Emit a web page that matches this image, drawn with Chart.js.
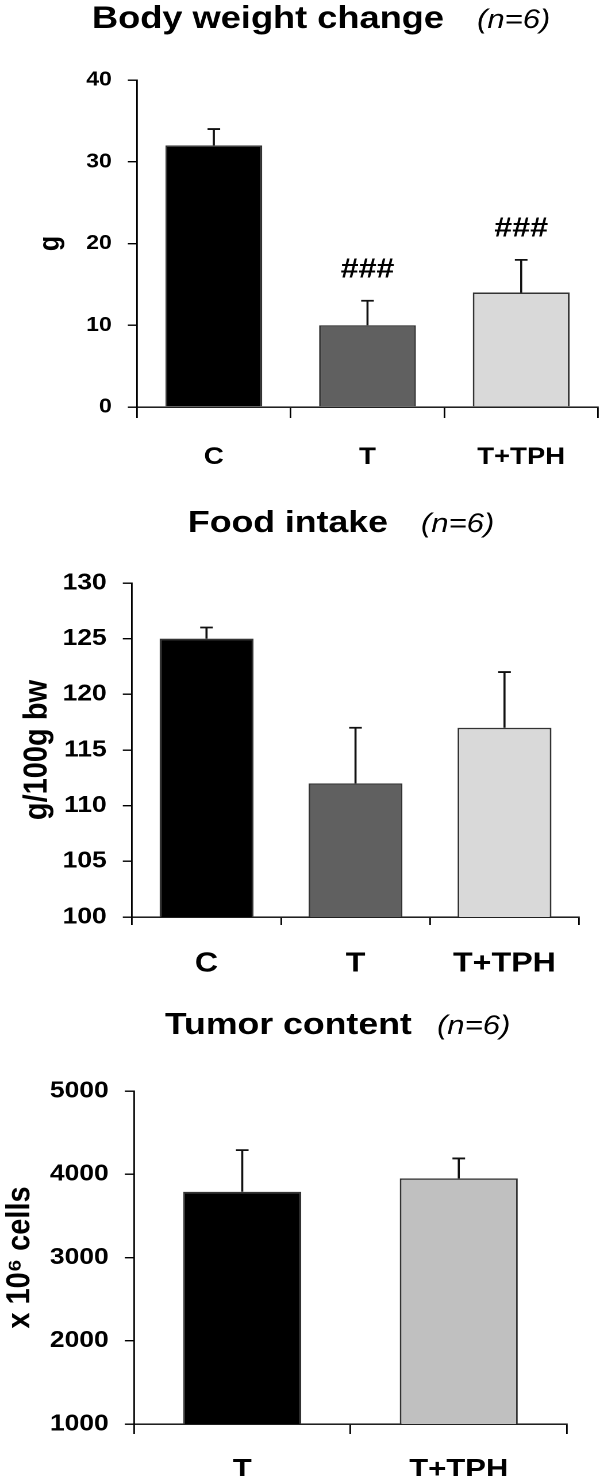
<!DOCTYPE html>
<html>
<head>
<meta charset="utf-8">
<script src="https://cdn.jsdelivr.net/npm/chart.js@4.4.1/dist/chart.umd.min.js"></script>
<style>
  html, body { margin: 0; padding: 0; background: #fff; }
  #wrap { position: relative; width: 600px; height: 1483px; overflow: hidden; }
  canvas { position: absolute; left: 0; }
</style>
</head>
<body>
<div id="wrap">
  <canvas id="bwChart" width="522" height="490" style="top:0;width:600px;height:490px"></canvas>
  <canvas id="fiChart" width="522" height="490" style="top:490px;width:600px;height:490px"></canvas>
  <canvas id="tcChart" width="522" height="503" style="top:980px;width:600px;height:503px"></canvas>
</div>
<script>
const FONT = "'Liberation Sans', Arial, sans-serif";
// the original figure is a little stretched sideways: draw narrow, show at 600px
const S = 600 / 522;
const hx = v => v / S;

// Body weight change (g)
const bwCategories = ['C', 'T', 'T+TPH'];
const bwMeans = [32, 10, 14];
const bwErrors = [2, 3, 4];
const bwMarks = ['', '###', '###'];
const bwTicks = { min: 0, max: 40, step: 10 };

// Food intake (g/100g bw)
const fiCategories = ['C', 'T', 'T+TPH'];
const fiMeans = [125, 112, 117];
const fiErrors = [1, 5, 5];
const fiTicks = { min: 100, max: 130, step: 5 };

// Tumor content (x 10^6 cells)
const tcCategories = ['T', 'T+TPH'];
const tcMeans = [3790, 3950];
const tcErrors = [500, 240];
const tcTicks = { min: 1000, max: 5000, step: 1000 };

// error bars (upper only) and significance marks
const errorBars = {
    id: 'errorBars',
    afterDatasetsDraw(chart, args, opts) {
        const ctx = chart.ctx;
        const yScale = chart.scales.y;
        const values = chart.data.datasets[0].data;
        ctx.save();
        ctx.strokeStyle = '#111';
        ctx.lineWidth = 1.8;
        chart.getDatasetMeta(0).data.forEach((bar, i) => {
            const top = yScale.getPixelForValue(values[i] + opts.errors[i]);
            ctx.beginPath();
            ctx.moveTo(bar.x, bar.y);
            ctx.lineTo(bar.x, top);
            ctx.moveTo(bar.x - 5.5, top);
            ctx.lineTo(bar.x + 5.5, top);
            ctx.stroke();
            if (opts.marks && opts.marks[i]) {
                ctx.fillStyle = '#000';
                ctx.font = 'bold 28px ' + FONT;
                ctx.textAlign = 'center';
                ctx.textBaseline = 'middle';
                ctx.fillText(opts.marks[i], bar.x, top - 31);
            }
        });
        ctx.restore();
    }
};

// bold title with italic (n=6)
const panelTitle = {
    id: 'panelTitle',
    afterDraw(chart, args, o) {
        const ctx = chart.ctx;
        ctx.save();
        ctx.fillStyle = '#000';
        ctx.textAlign = 'left';
        ctx.textBaseline = 'alphabetic';
        ctx.font = 'bold ' + o.size + 'px ' + FONT;
        ctx.fillText(o.text, hx(o.x), o.y);
        ctx.font = 'italic 27px ' + FONT;
        ctx.fillText(o.sub, hx(o.subX), o.y);
        ctx.restore();
    }
};

function createChartConfig(p) {
    return {
        type: 'bar',
        data: {
            labels: p.labels,
            datasets: [{
                data: p.values,
                backgroundColor: p.colors,
                borderColor: '#333',
                borderWidth: 1.5,
                barPercentage: p.barPct,
                categoryPercentage: 1
            }]
        },
        options: {
            responsive: false,
            animation: false,
            devicePixelRatio: 2,
            layout: { padding: { top: p.top, left: 0, right: hx(600 - p.right), bottom: p.bottomPad } },
            plugins: {
                legend: { display: false },
                tooltip: { enabled: false },
                errorBars: { errors: p.errors, marks: p.marks },
                panelTitle: p.title
            },
            scales: {
                x: {
                    grid: { drawOnChartArea: false, drawTicks: true, tickLength: p.xTick, offset: true, color: '#000', lineWidth: 1.4 },
                    border: { color: '#000', width: 1.4 },
                    ticks: { color: '#000', font: { family: FONT, size: p.xFont, weight: 'bold' }, padding: p.xPad, maxRotation: 0, autoSkip: false },
                    afterFit(scale) { scale.height = p.xHeight; }
                },
                y: {
                    min: p.ticks.min,
                    max: p.ticks.max,
                    ticks: {
                        stepSize: p.ticks.step, color: '#000', padding: 14,
                        font: { family: FONT, size: p.yFont, weight: 'bold' },
                        callback: value => String(value)
                    },
                    grid: { drawOnChartArea: false, drawTicks: true, tickLength: 8, color: '#000', lineWidth: 1.4 },
                    border: { color: '#000', width: 1.4 },
                    title: { display: true, text: p.yTitle, color: '#000', font: { family: FONT, size: p.yTitleFont, weight: 'bold' }, padding: { top: p.yTitlePad, bottom: 0 } },
                    afterFit(scale) { scale.width = hx(p.left); }
                }
            }
        },
        plugins: [errorBars, panelTitle]
    };
}

new Chart(document.getElementById('bwChart'), createChartConfig({
    labels: bwCategories, values: bwMeans, errors: bwErrors, marks: bwMarks,
    colors: ['#000000', '#606060', '#d9d9d9'], barPct: 0.63, ticks: bwTicks,
    top: 80, left: 137, right: 598, bottomPad: 8, xHeight: 75,
    xTick: 11, xFont: 24, xPad: 25, yFont: 20,
    yTitle: 'g', yTitleFont: 25, yTitlePad: 29,
    title: { text: 'Body weight change', size: 31.5, x: 92, y: 28, sub: '(n=6)', subX: 477 }
}));

new Chart(document.getElementById('fiChart'), createChartConfig({
    labels: fiCategories, values: fiMeans, errors: fiErrors, marks: null,
    colors: ['#000000', '#606060', '#d9d9d9'], barPct: 0.63, ticks: fiTicks,
    top: 93, left: 132, right: 579, bottomPad: 7, xHeight: 56,
    xTick: 8, xFont: 28, xPad: 22, yFont: 23,
    yTitle: 'g/100g bw', yTitleFont: 29, yTitlePad: 15,
    title: { text: 'Food intake', size: 31, x: 188, y: 42, sub: '(n=6)', subX: 421 }
}));

new Chart(document.getElementById('tcChart'), createChartConfig({
    labels: tcCategories, values: tcMeans, errors: tcErrors, marks: null,
    colors: ['#000000', '#c0c0c0'], barPct: 0.545, ticks: tcTicks,
    top: 111, left: 134, right: 567, bottomPad: 7, xHeight: 52,
    xTick: 10, xFont: 27, xPad: 20, yFont: 23,
    yTitle: 'x 10\u2076 cells', yTitleFont: 29, yTitlePad: 0,
    title: { text: 'Tumor content', size: 31, x: 165, y: 54, sub: '(n=6)', subX: 437 }
}));
</script>
</body>
</html>
